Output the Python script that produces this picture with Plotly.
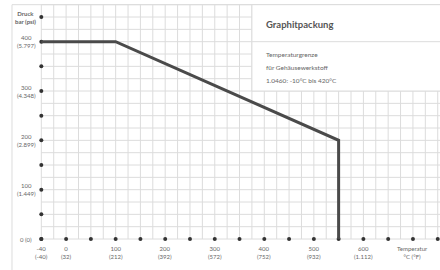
import plotly.graph_objects as go

# ---- data ----
line_temp = [-50, 100, 550, 550]          # axis position (first position labelled -40)
line_pressure = [400, 400, 200, 0]

x_tick_pos = [-50, 0, 100, 200, 300, 400, 500, 600]
x_tick_text = ["-40<br>(-40)", "0<br>(32)", "100<br>(212)", "200<br>(392)", "300<br>(572)",
               "400<br>(752)", "500<br>(932)", "600<br>(1.112)"]
y_tick_pos = [0, 100, 200, 300, 400]
y_tick_text = ["0 (0)", "100<br>(1.449)", "200<br>(2.899)", "300<br>(4.348)", "400<br>(5.797)"]

x_dots = list(range(-50, 751, 50))
y_dots = list(range(0, 451, 50))

title_text = "Graphitpackung"
info_lines = ["Temperaturgrenze", "für Gehäusewerkstoff", "1.0460: -10°C bis 420°C"]

# ---- geometry ----
XR = [-133.4, 754.6]
YR = [-62.8, 484.5]
GRID = "#dcdcdc"
TXT = "#666666"
FONT = "Lato"

fig = go.Figure()

shapes = []
# grid
for gx in range(-50, 751, 25):
    shapes.append(dict(type="line", x0=gx, x1=gx, y0=0, y1=475, layer="below",
                       line=dict(color=GRID, width=1)))
for gy in range(0, 476, 25):
    shapes.append(dict(type="line", x0=-50, x1=XR[1] + 10, y0=gy, y1=gy, layer="below",
                       line=dict(color=GRID, width=1)))
# outer frame
shapes.append(dict(type="line", x0=-109.2, x1=-109.2, y0=475, y1=YR[0] - 10, layer="below",
                   line=dict(color=GRID, width=1)))
shapes.append(dict(type="line", x0=-109.2, x1=XR[1] + 10, y0=475, y1=475, layer="below",
                   line=dict(color=GRID, width=1)))
# info box
shapes.append(dict(type="rect", x0=375, x1=XR[1] + 10, y0=300, y1=475, layer="below",
                   fillcolor="white", line=dict(color=GRID, width=1)))
shapes.append(dict(type="line", x0=375, x1=XR[1] + 10, y0=400, y1=400, layer="below",
                   line=dict(color=GRID, width=1)))

# dots
fig.add_trace(go.Scatter(x=x_dots, y=[0] * len(x_dots), mode="markers",
                         marker=dict(size=4, color="#333333"), hoverinfo="skip", showlegend=False))
fig.add_trace(go.Scatter(x=[-50] * len(y_dots), y=y_dots, mode="markers",
                         marker=dict(size=4, color="#333333"), hoverinfo="skip", showlegend=False))
# limit line
fig.add_trace(go.Scatter(x=line_temp, y=line_pressure, mode="lines",
                         line=dict(color="#4a4a4a", width=3), showlegend=False))

ann = []
for xp, t in zip(x_tick_pos, x_tick_text):
    ann.append(dict(x=xp, y=0, xref="x", yref="y", text=t, showarrow=False,
                    xanchor="center", yanchor="top", yshift=-4, align="center",
                    font=dict(family=FONT, size=6, color=TXT)))
ann.append(dict(x=700, y=0, xref="x", yref="y", text="Temperatur<br>°C (°F)", showarrow=False,
                xanchor="center", yanchor="top", yshift=-4, align="center",
                font=dict(family=FONT, size=6, color=TXT)))
for yp, t in zip(y_tick_pos, y_tick_text):
    ann.append(dict(x=-50, y=yp, xref="x", yref="y", text=t, showarrow=False,
                    xanchor="center", yanchor="middle", xshift=-15, align="center",
                    font=dict(family=FONT, size=6, color=TXT)))
ann.append(dict(x=-50, y=450, xref="x", yref="y", text="<b>Druck</b><br><b>bar (psi)</b>",
                showarrow=False, xanchor="center", yanchor="middle", xshift=-16, align="center",
                font=dict(family=FONT, size=6, color=TXT)))
ann.append(dict(x=400, y=434, xref="x", yref="y", text="<b>" + title_text + "</b>", showarrow=False,
                xanchor="left", yanchor="middle", font=dict(family=FONT, size=9.5, color="#555555")))
for i, (t, yy) in enumerate(zip(info_lines, [375, 348.5, 322])):
    ann.append(dict(x=400, y=yy, xref="x", yref="y", text=t, showarrow=False,
                    xanchor="left", yanchor="middle", font=dict(family=FONT, size=6.5, color=TXT)))

fig.update_layout(
    width=440, height=270,
    margin=dict(l=0, r=0, t=0, b=0),
    paper_bgcolor="white", plot_bgcolor="white",
    xaxis=dict(range=XR, visible=False, fixedrange=True),
    yaxis=dict(range=YR, visible=False, fixedrange=True),
    shapes=shapes, annotations=ann,
)

fig.write_html("out.html", config={"displayModeBar": False},
               post_script="document.body.style.margin='0px';document.body.style.overflow='hidden';")
